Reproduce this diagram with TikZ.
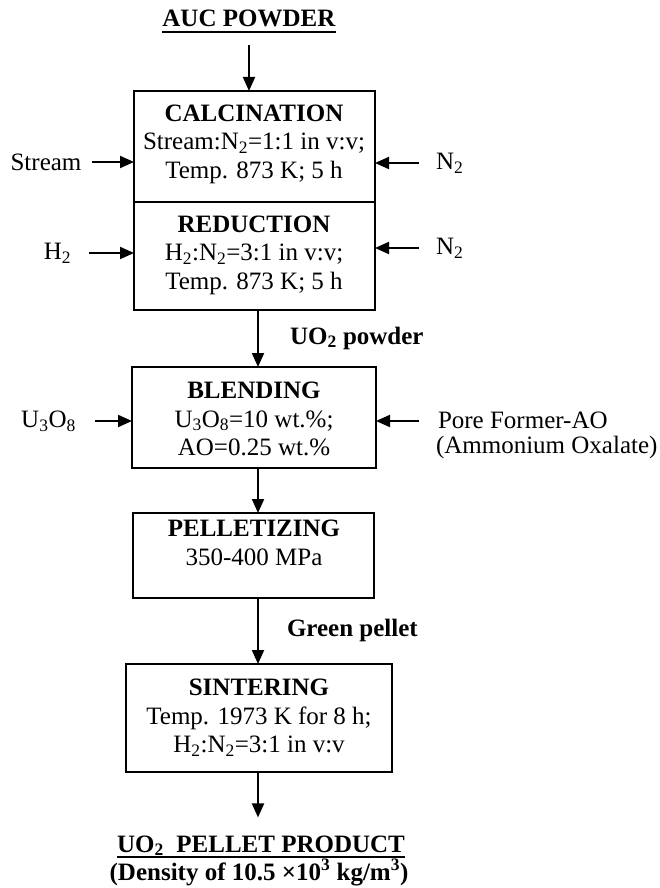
\documentclass[tikz,border=0pt]{standalone}
\usepackage{fontspec}
\setmainfont{Liberation Serif}
\usetikzlibrary{arrows.meta}
\begin{document}
\begin{tikzpicture}[x=1pt,y=-1pt,
  every node/.style={font=\fontsize{25}{28.5}\selectfont, inner sep=0pt, outer sep=0pt},
  box/.style={draw, line width=1.5pt, rectangle},
  boxtext/.style={align=center},
  arr/.style={-{Triangle[length=14pt,width=12pt]}, line width=2pt},
  uline/.style={line width=1.8pt}]
\useasboundingbox (0,0) rectangle (660,888);

% boxes
\node[box, minimum width=241pt, minimum height=111pt] (calc) at (254.5,146.5) {};
\node[box, minimum width=241pt, minimum height=108pt] (red) at (254.5,256) {};
\node[box, minimum width=244pt, minimum height=101pt] (blend) at (254,417.5) {};
\node[box, minimum width=241pt, minimum height=85pt] (pell) at (253.5,555.5) {};
\node[box, minimum width=266pt, minimum height=108pt] (sint) at (259,718) {};

% box texts
\node[boxtext] (calcT) at (254,144) {\textbf{CALCINATION}\\Stream:N\textsubscript{2}=1:1 in v:v;\\Temp. 873 K; 5 h};
\node[boxtext] (redT) at (254,255) {\textbf{REDUCTION}\\H\textsubscript{2}:N\textsubscript{2}=3:1 in v:v;\\Temp. 873 K; 5 h};
\node[boxtext] (blendT) at (254,419) {\textbf{BLENDING}\\U\textsubscript{3}O\textsubscript{8}=10 wt.\%;\\AO=0.25 wt.\%};
\node[boxtext] (pellT) at (254,543) {\textbf{PELLETIZING}\\350-400 MPa};
\node[boxtext] (sintT) at (259,718) {\textbf{SINTERING}\\Temp. 1973 K for 8 h;\\H\textsubscript{2}:N\textsubscript{2}=3:1 in v:v};

% top and bottom labels
\node[anchor=base] (auc) at (249,27) {\textbf{AUC POWDER}};
\draw[uline] ([yshift=-5pt]auc.base west) -- ([yshift=-5pt]auc.base east);
\node[anchor=base] (prod) at (261,852) {\textbf{UO\textsubscript{2}\ \ PELLET PRODUCT}};
\draw[uline] ([yshift=-5pt]prod.base west) -- ([yshift=-5pt]prod.base east);
\node[anchor=base] (dens) at (259,880) {\textbf{(Density of 10.5 ×10\textsuperscript{3} kg/m\textsuperscript{3})}};

% side labels
\node (stream) at (46,162) {Stream};
\node[anchor=west] (n2a) at (436,163) {N\textsubscript{2}};
\node (h2) at (57.5,253) {H\textsubscript{2}};
\node[anchor=west] (n2b) at (436,248) {N\textsubscript{2}};
\node (u3o8) at (48.5,421) {U\textsubscript{3}O\textsubscript{8}};
\node[anchor=west] (pore) at (438,420) {Pore Former-AO};
\node[anchor=west] (poreB) at (436,447) {(Ammonium Oxalate)};
\node[anchor=west] (uo2) at (290,338) {\textbf{UO\textsubscript{2} powder}};
\node[anchor=west] (green) at (287,630) {\textbf{Green pellet}};

% axis coordinate for main vertical flow
\coordinate (ax) at (258,0);

% vertical arrows
\draw[arr, shorten <=18pt] (auc.south) -- (auc.south |- calc.north);
\draw[arr] (ax |- red.south) -- (ax |- blend.north);
\draw[arr] (ax |- blend.south) -- (ax |- pell.north);
\draw[arr] (ax |- pell.south) -- (ax |- sint.north);
\draw[arr, shorten >=18pt] (ax |- sint.south) -- (ax |- prod.north);

% horizontal arrows
\draw[arr, shorten <=11pt] (stream.east) -- (stream.east -| calc.west);
\draw[arr, shorten <=17pt] (n2a.west) -- (n2a.west -| calc.east);
\draw[arr, shorten <=18pt] (h2.east) -- (h2.east -| red.west);
\draw[arr, shorten <=17pt] (n2b.west) -- (n2b.west -| red.east);
\draw[arr, shorten <=19pt] (u3o8.east) -- (u3o8.east -| blend.west);
\draw[arr, shorten <=19pt] ([yshift=-1pt]pore.west) -- ([yshift=-1pt]pore.west -| blend.east);
\end{tikzpicture}
\end{document}
